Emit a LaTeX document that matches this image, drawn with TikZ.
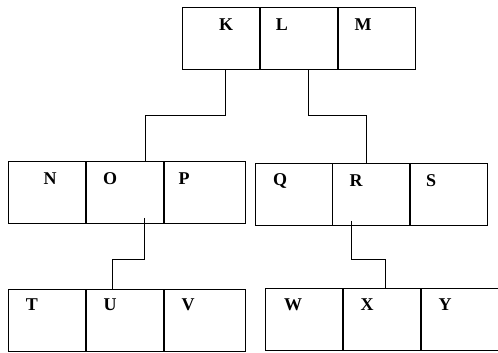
\documentclass[tikz,border=0pt]{standalone}
\usepackage{fontspec}
\setmainfont{Liberation Serif}
\usetikzlibrary{positioning}

\begin{document}
\begin{tikzpicture}[x=1pt,y=-1pt,line width=0.9pt,
    cell/.style={draw,minimum width=77pt,minimum height=62pt,inner sep=0pt},
    letter/.style={inner sep=0pt,font=\fontsize{18}{18}\selectfont\bfseries}]
  \useasboundingbox (0,0) rectangle (498,353);
  % top record
  \node[cell] (k) at (221,38.5) {};
  \node[cell] (l) [right=0pt of k] {};
  \node[cell] (m) [right=0pt of l] {};
  % second level
  \node[cell] (n) at (47,192.5) {};
  \node[cell] (o) [right=0pt of n] {};
  \node[cell,minimum width=81pt] (p) [right=0pt of o] {};
  \node[cell] (q) at (293.5,194.5) {};
  \node[cell] (r) [right=0pt of q] {};
  \node[cell] (s) [right=0pt of r] {};
  % third level
  \node[cell] (t) at (47,320) {};
  \node[cell] (u) [right=0pt of t] {};
  \node[cell,minimum width=81pt] (v) [right=0pt of u] {};
  \node[cell] (w) at (304,319.5) {};
  \node[cell] (x) [right=0pt of w] {};
  \node[cell] (y) [right=0pt of x] {};

  % letters
  \node[letter] (kt) at (226,25) {K};
  \node[letter] (lt) at (282,25) {L};
  \node[letter] (mt) at (363,25) {M};
  \node[letter] (nt) at (50,179) {N};
  \node[letter] (ot) at (110,179) {O};
  \node[letter] (pt) at (184,179) {P};
  \node[letter] (qt) at (280,181) {Q};
  \node[letter] (rt) at (356,181) {R};
  \node[letter] (st) at (431,181) {S};
  \node[letter] (tt) at (32,305) {T};
  \node[letter] (ut) at (110,305) {U};
  \node[letter] (vt) at (188,305) {V};
  \node[letter] (wt) at (293,305) {W};
  \node[letter] (xt) at (367,305) {X};
  \node[letter] (yt) at (445,305) {Y};

  % links
  \coordinate (oin) at (o.north -| 145,0);
  \coordinate (rin) at (r.north -| 366,0);
  \coordinate (uin) at (u.north -| 112,0);
  \coordinate (xin) at (x.north -| 385,0);
  \draw ([xshift=4pt]k.south) |- (oin |- 0,115) -- (oin);
  \draw ([xshift=10pt]l.south) |- (rin |- 0,115) -- (rin);
  \draw ([xshift=20pt,yshift=6pt]o.south) |- (uin |- 0,259) -- (uin);
  \draw ([xshift=19pt,yshift=5pt]r.south west) |- (xin |- 0,259) -- (xin);
\end{tikzpicture}
\end{document}
